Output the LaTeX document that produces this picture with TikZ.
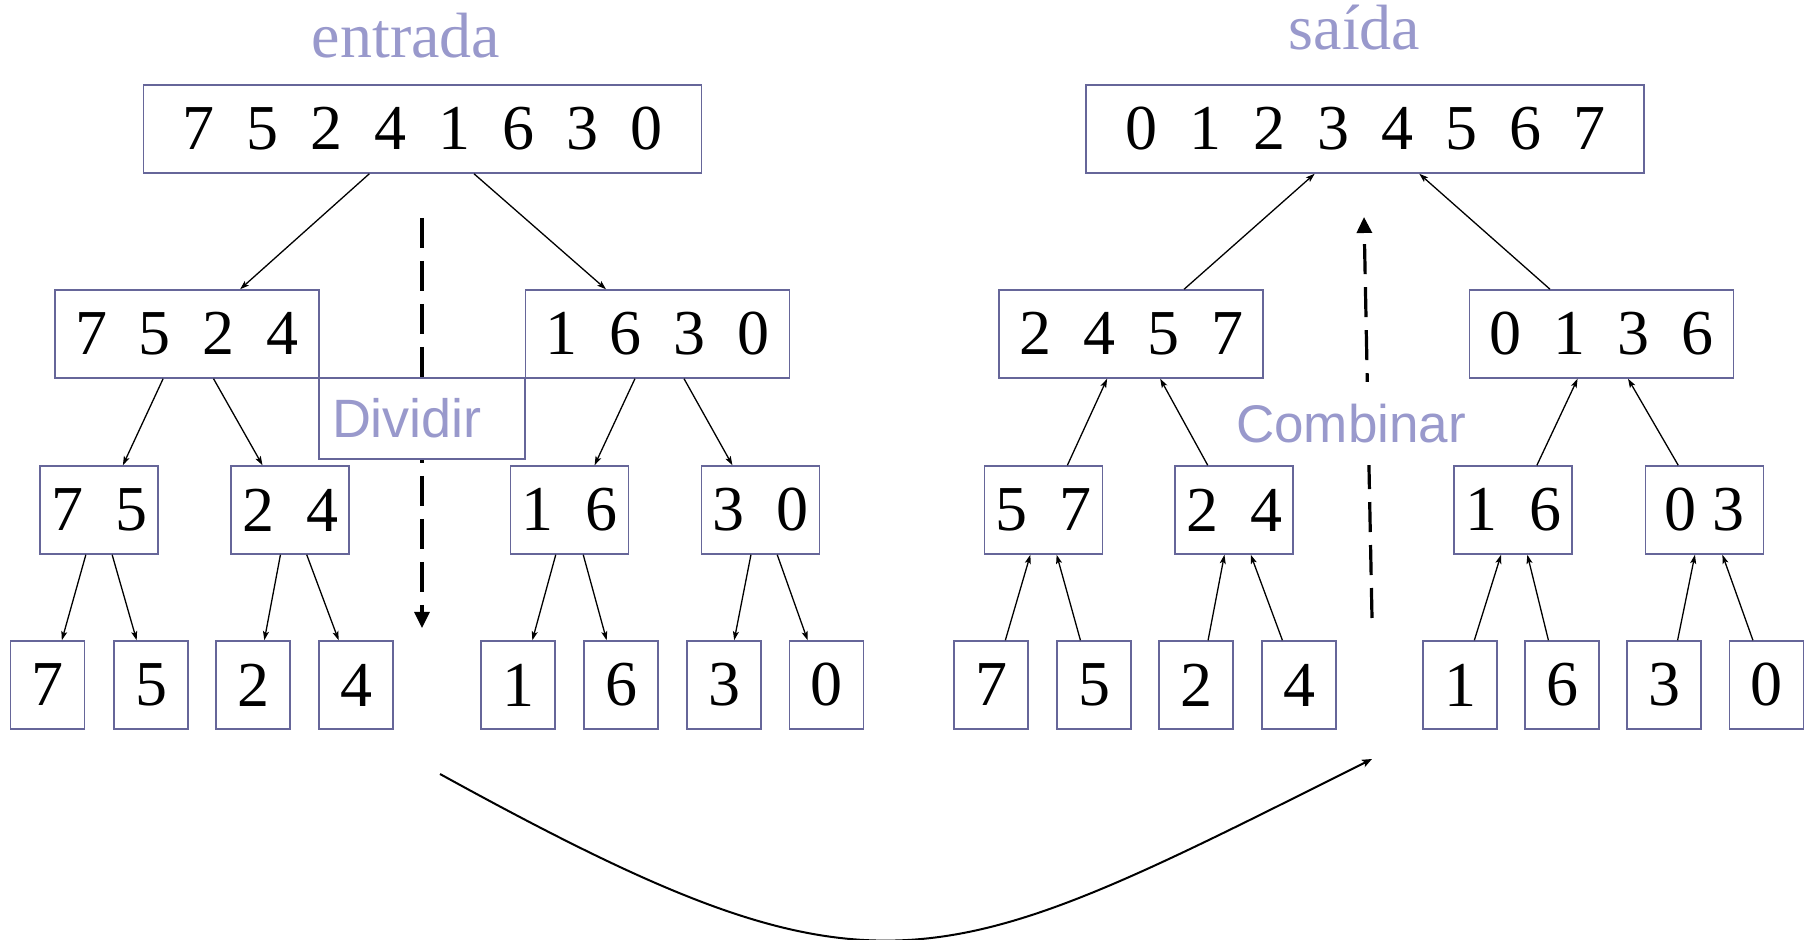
\documentclass[tikz,border=0pt]{standalone}
\usepackage{fontspec}
\setmainfont{Liberation Serif}
\setsansfont{Liberation Sans}
\usetikzlibrary{arrows.meta,calc}

\definecolor{boxcol}{RGB}{102,102,153}
\definecolor{labcol}{RGB}{153,153,204}

% gaps between the digits of one array
\newcommand\dg{\hspace{0.5em}}
\newcommand\sg{\hspace{0.25em}}

% arrow from the lower edge of #1 (at fraction #2) to the upper edge of #3 (at fraction #4)
\newcommand\downlink[4]{\draw[thinarrow] ($(#1.south west)!#2!(#1.south east)$) -- ($(#3.north west)!#4!(#3.north east)$);}
% arrow from the upper edge of #1 (at fraction #2) to the lower edge of #3 (at fraction #4)
\newcommand\uplink[4]{\draw[thinarrow] ($(#1.north west)!#2!(#1.north east)$) -- ($(#3.south west)!#4!(#3.south east)$);}

\tikzset{
  cell/.style={draw=boxcol, line width=0.75pt, fill=white, inner sep=0pt,
               minimum height=44pt, font=\fontsize{32pt}{36pt}\selectfont},
  arr8/.style={cell, minimum width=279pt},
  arr4/.style={cell, minimum width=132pt},
  arr2/.style={cell, minimum width=59pt},
  arr1/.style={cell, minimum width=37pt},
  title/.style={text=labcol, inner sep=0pt, anchor=base, font=\fontsize{32pt}{36pt}\selectfont},
  phase/.style={text=labcol, inner sep=0pt, font=\sffamily\fontsize{26.5pt}{30pt}\selectfont},
  thinarrow/.style={line width=0.65pt, -{Stealth[length=4.5pt,width=3pt,inset=1pt]}},
  dasharrow/.style={line width=1.6pt, dash pattern=on 15pt off 6.5pt,
                    -{Triangle[length=8pt,width=7.5pt]}},
  bigarc/.style={line width=1pt, -{Stealth[length=5pt,width=4pt,inset=1.2pt]}},
}

\begin{document}
\begin{tikzpicture}[x=0.5pt,y=-0.5pt]
\useasboundingbox (0,0) rectangle (1810,940);

% ---------- dividing (left) ----------
\node[title] (in) at (406,58) {entrada};
\node[arr8] (a) at (422.5,129) {7\dg5\dg2\dg4\dg1\dg6\dg3\dg0};

\node[arr4] (a1) at (187,334)   {7\dg5\dg2\dg4};
\node[arr4] (a2) at (657.5,334) {1\dg6\dg3\dg0};

\node[arr2] (a11) at (99,510)    {7\dg5};
\node[arr2] (a12) at (290,510)   {2\dg4};
\node[arr2] (a21) at (569.5,510) {1\dg6};
\node[arr2] (a22) at (760.5,510) {3\dg0};

\node[arr1] (l1) at (47.5,685) {7};
\node[arr1] (l2) at (151,685)  {5};
\node[arr1] (l3) at (253,685)  {2};
\node[arr1] (l4) at (356,685)  {4};
\node[arr1] (l5) at (518,685)  {1};
\node[arr1] (l6) at (621,685)  {6};
\node[arr1] (l7) at (724,685)  {3};
\node[arr1] (l8) at (826.5,685){0};

\downlink{a}{0.405}{a1}{0.70}
\downlink{a}{0.592}{a2}{0.306}
\downlink{a1}{0.41}{a11}{0.70}
\downlink{a1}{0.60}{a12}{0.27}
\downlink{a2}{0.415}{a21}{0.71}
\downlink{a2}{0.60}{a22}{0.265}
\downlink{a11}{0.39}{l1}{0.69}
\downlink{a11}{0.61}{l2}{0.31}
\downlink{a12}{0.42}{l3}{0.65}
\downlink{a12}{0.64}{l4}{0.27}
\downlink{a21}{0.385}{l5}{0.69}
\downlink{a21}{0.615}{l6}{0.31}
\downlink{a22}{0.42}{l7}{0.635}
\downlink{a22}{0.64}{l8}{0.25}

\coordinate (dtop) at (422,218);
\coordinate (dbot) at (422,628);
\draw[dasharrow] (dtop) -- (dbot);
\node[draw=boxcol, line width=0.75pt, fill=white, inner sep=0pt,
      minimum width=103pt, minimum height=40.5pt] (div) at (422,418.5)
      {\makebox[103pt][l]{\hspace{6.5pt}\sffamily\color{labcol}\fontsize{27pt}{30pt}\selectfont Dividir}};

% ---------- combining (right) ----------
\node[title] (out) at (1354.5,50) {saída};
\node[arr8] (b) at (1365,129) {0\dg1\dg2\dg3\dg4\dg5\dg6\dg7};

\node[arr4] (b1) at (1131,334)   {2\dg4\dg5\dg7};
\node[arr4] (b2) at (1601.5,334) {0\dg1\dg3\dg6};

\node[arr2] (b11) at (1043.5,510) {5\dg7};
\node[arr2] (b12) at (1234,510)   {2\dg4};
\node[arr2] (b21) at (1513,510)   {1\dg6};
\node[arr2] (b22) at (1704.5,510) {0\sg3};

\node[arr1] (r1) at (991,685)   {7};
\node[arr1] (r2) at (1094,685)  {5};
\node[arr1] (r3) at (1196,685)  {2};
\node[arr1] (r4) at (1299,685)  {4};
\node[arr1] (r5) at (1460,685)  {1};
\node[arr1] (r6) at (1562,685)  {6};
\node[arr1] (r7) at (1664,685)  {3};
\node[arr1] (r8) at (1766.5,685){0};

\uplink{b1}{0.70}{b}{0.41}
\uplink{b2}{0.306}{b}{0.597}
\uplink{b11}{0.70}{b1}{0.41}
\uplink{b12}{0.28}{b1}{0.61}
\uplink{b21}{0.70}{b2}{0.41}
\uplink{b22}{0.28}{b2}{0.60}
\uplink{r1}{0.69}{b11}{0.39}
\uplink{r2}{0.32}{b11}{0.61}
\uplink{r3}{0.66}{b12}{0.42}
\uplink{r4}{0.28}{b12}{0.64}
\uplink{r5}{0.69}{b21}{0.40}
\uplink{r6}{0.32}{b21}{0.62}
\uplink{r7}{0.68}{b22}{0.42}
\uplink{r8}{0.32}{b22}{0.65}

\coordinate (ctop) at (1364,217);
\coordinate (cbot) at (1372,618);
\draw[dasharrow] (cbot) -- (ctop);
\node[phase, fill=white, minimum height=41.5pt, inner xsep=2pt] (comb) at (1351,423.5) {Combinar};

% ---------- from the split halves over to the merge ----------
\coordinate (arcs) at (440,774);
\coordinate (arce) at (1372,759);
\draw[bigarc] (arcs) .. controls (880,1016) and (932,979) .. (arce);
\end{tikzpicture}
\end{document}
